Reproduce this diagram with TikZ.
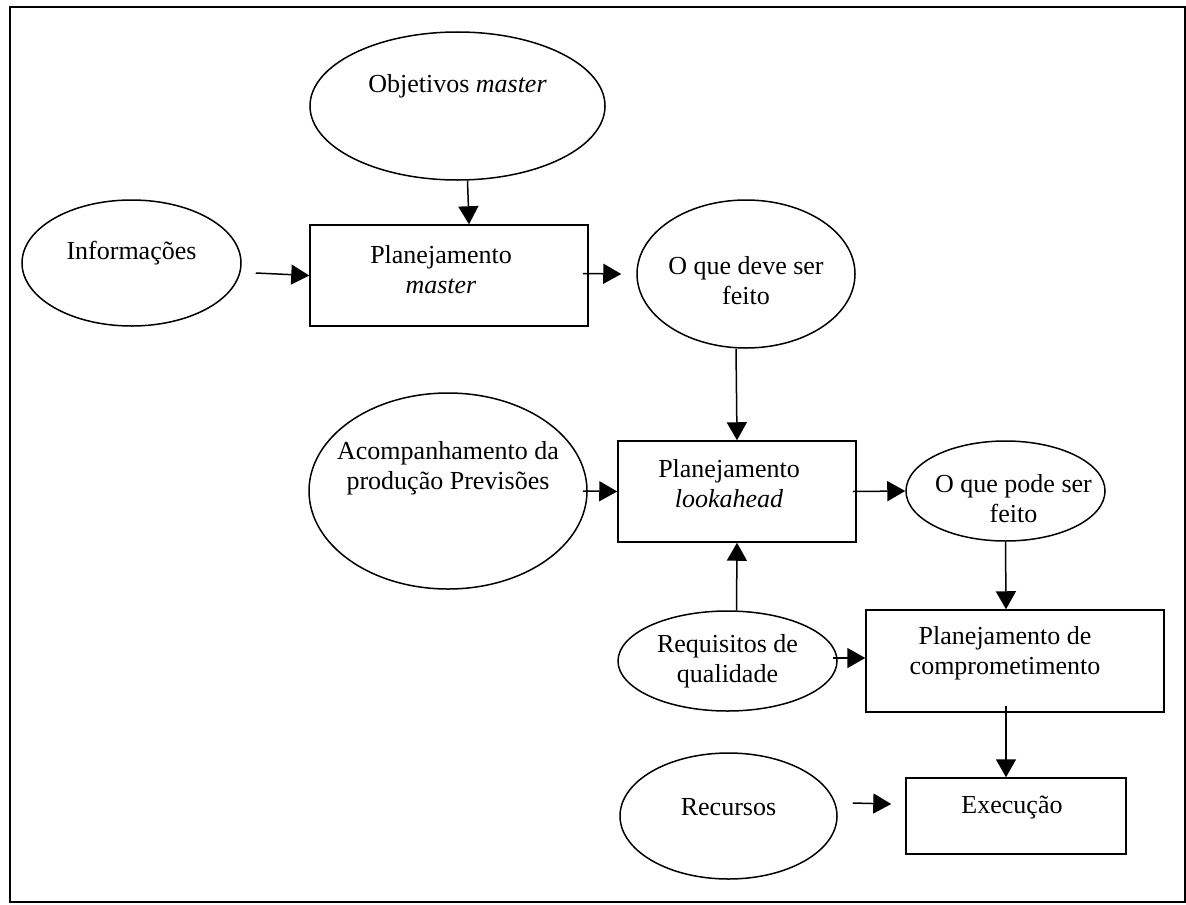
\documentclass[tikz,border=0pt]{standalone}
\usepackage{fontspec}
\setmainfont{Liberation Serif}
\usetikzlibrary{arrows.meta, shapes.geometric}

\tikzset{
  oval/.style={draw, ellipse, inner sep=0pt},
  box/.style={draw, rectangle, inner sep=0pt},
  txt/.style={font=\fontsize{13}{15}\selectfont, align=center, inner sep=0pt},
}

\begin{document}
\begin{tikzpicture}[x=0.5pt, y=-0.5pt, >={Triangle[length=9pt, width=10pt]}, line width=0.75pt]

\useasboundingbox (0,0) rectangle (1186,904);

% Frame
\draw[line width=0.6pt] (10,7) rectangle (1185,902);

% Master level
\node[oval, minimum width=147.5pt, minimum height=74pt,
  label={[txt, name=objm-t, yshift=10pt]center:Objetivos \textit{master}}] (objm) at (457.5,106) {};
\node[oval, minimum width=109.5pt, minimum height=63pt,
  label={[txt, name=info-t, yshift=5pt]center:Informações}] (info) at (131.5,263) {};
\node[box, minimum width=139pt, minimum height=50.5pt,
  label={[txt, name=planm-t, xshift=-4pt, yshift=3pt]center:Planejamento\\\textit{master}}] (planm) at (449,275.5) {};
\node[oval, minimum width=109pt, minimum height=74pt,
  label={[txt, name=deve-t, yshift=-3.5pt]center:O que deve ser\\feito}] (deve) at (746,274) {};

% Lookahead level
\node[oval, minimum width=139pt, minimum height=98pt,
  label={[txt, name=acomp-t, yshift=11.5pt]center:Acompanhamento da\\produção Previsões}] (acomp) at (448,491) {};
\node[box, minimum width=119pt, minimum height=50.5pt,
  label={[txt, name=look-t, xshift=-4pt, yshift=4pt]center:Planejamento\\\textit{lookahead}}] (look) at (737,491.5) {};
\node[oval, minimum width=99.5pt, minimum height=50pt,
  label={[txt, name=pode-t, xshift=4pt, yshift=-4pt]center:O que pode ser\\feito}] (pode) at (1005.5,491) {};

% Commitment level
\node[oval, minimum width=109.5pt, minimum height=50pt,
  label={[txt, name=req-t]center:Requisitos de\\qualidade}] (req) at (727.5,661) {};
\node[box, minimum width=149pt, minimum height=51pt,
  label={[txt, name=comp-t, xshift=-5pt, yshift=4pt]center:Planejamento de\\comprometimento}] (comp) at (1015,661) {};

% Execution
\node[oval, minimum width=108.5pt, minimum height=63pt,
  label={[txt, name=rec-t, yshift=4.5pt]center:Recursos}] (rec) at (728.5,816) {};
\node[box, minimum width=110pt, minimum height=38pt,
  label={[txt, name=exec-t, xshift=-2pt, yshift=4.5pt]center:Execução}] (exec) at (1016,816) {};

% Connectors
\draw[->] ([xshift=5pt]objm.south) -- ([xshift=10pt]planm.north);
\draw[->] ([shift={(7pt,-5pt)}]info.east) -- (planm.west);
\draw[->] ([shift={(-3pt,1pt)}]planm.east) -- ([xshift=-7.5pt]deve.west);
\draw[->] ([xshift=-5pt]deve.south) -- (look.north);
\draw[->] ([xshift=-2.5pt]acomp.east) -- (look.west);
\draw[->] ([xshift=-2pt]look.east) -- (pode.west);
\draw[->] ([xshift=4.5pt]req.north) -- (look.south);
\draw[->] (pode.south) -- ([xshift=-4.5pt]comp.north);
\draw[->] ([shift={(-2.5pt,1.5pt)}]req.east) -- ([yshift=1.5pt]comp.west);
\draw[->] ([shift={(-4.5pt,3.5pt)}]comp.south) -- ([xshift=-5pt]exec.north);
\draw[->] ([shift={(7.5pt,6.5pt)}]rec.east) -- ([shift={(-7pt,6pt)}]exec.west);

\end{tikzpicture}
\end{document}
